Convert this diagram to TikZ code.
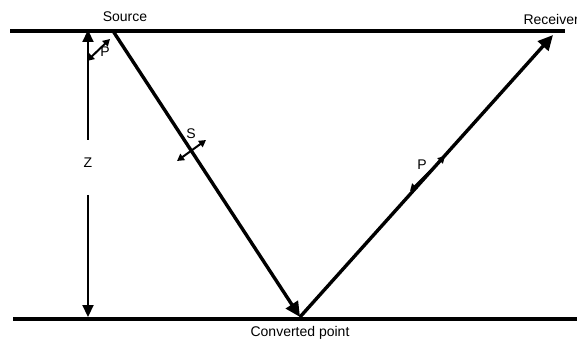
\documentclass[tikz,border=0pt]{standalone}
\usepackage{fontspec}
\setmainfont{Liberation Sans}
\usetikzlibrary{arrows.meta}
\begin{document}
\begin{tikzpicture}[x=1pt,y=-1pt,
  lbl/.style={font=\fontsize{14}{16}\selectfont, inner sep=0pt},
  surface/.style={line width=4.5pt},
  ray/.style={line width=3.4pt, -{Triangle[length=15pt,width=14pt]}},
  zarrow/.style={line width=2.2pt, -{Triangle[length=12pt,width=11pt]}},
  pol/.style={line width=2pt, {Triangle[length=7pt,width=7.5pt]}-{Triangle[length=7pt,width=7.5pt]}}]
\useasboundingbox (0,0) rectangle (577,344);
% surfaces
\coordinate (tl) at (10,31);
\coordinate (tr) at (565,31);
\coordinate (bl) at (13,319);
\coordinate (br) at (577,319);
\draw[surface] (tl) -- (tr);
\draw[surface] (bl) -- (br);
% key points
\coordinate (src) at (113,31);
\coordinate (conv) at (300,317);
\coordinate (rec) at (553,35);
\draw[ray] (src) -- (conv);
\draw[ray] (conv) -- (rec);
% labels
\node[lbl] (srclbl) at (125,17) {Source};
\node[lbl, anchor=east] (reclbl) at (579,20) {Receiver};
\node[lbl] (convlbl) at (300,333) {Converted point};
% depth arrow
\node[lbl] (z) at (88,163) {Z};
\coordinate (ztop) at (88,30);
\coordinate (zbot) at (88,317);
\draw[zarrow] (88,140) -- (ztop);
\draw[zarrow] (88,195) -- (zbot);
% polarisation arrows
\coordinate (p1a) at (87,61);
\coordinate (p1b) at (110,39);
\draw[pol] (p1a) -- (p1b);
\node[lbl] (p1) at (105,52) {P};
\coordinate (sa) at (177,161);
\coordinate (sb) at (206,140);
\draw[pol] (sa) -- (sb);
\node[lbl] (s) at (191,134) {S};
\coordinate (p2a) at (410,191);
\coordinate (p2b) at (445,156);
\draw[pol] (p2a) -- (p2b);
\node[lbl] (p2) at (422,165) {P};
\end{tikzpicture}
\end{document}
